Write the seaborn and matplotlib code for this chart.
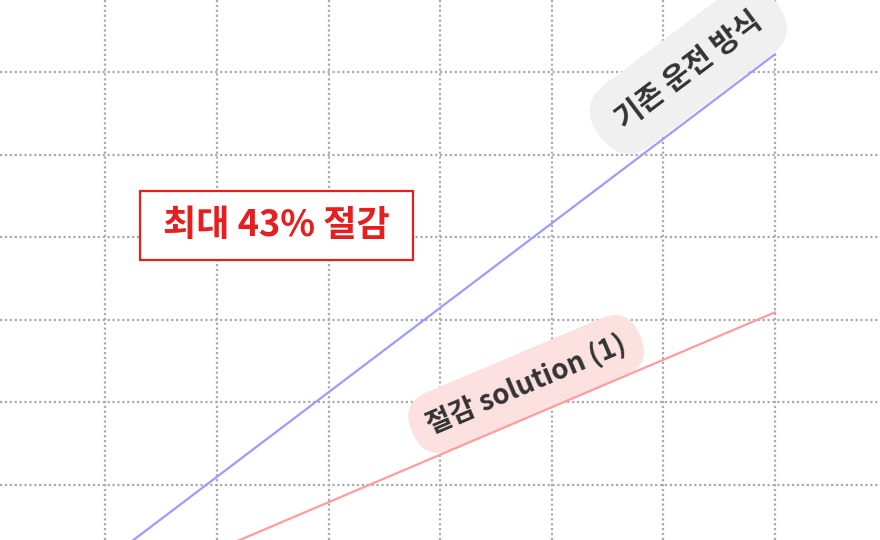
import numpy as np
import pandas as pd
import matplotlib
matplotlib.use("Agg")
import matplotlib.pyplot as plt
from matplotlib.patches import Rectangle
import seaborn as sns

# 데이터
x_base = [1, 7]
y_base = [0.07, 6.22]          # 기존 운전 방식
x_sol = [2, 7]
y_sol = [0.21, 3.09]           # 절감 solution (1)
x_grid = [1, 2, 3, 4, 5, 6, 7]
y_grid = [1, 2, 3, 4, 5, 6]

label_base = "기존 운전 방식"
label_sol = "절감 solution (1)"
label_save = "최대 43% 절감"

sns.set_theme(style="white")
plt.rcParams["font.family"] = ["Noto Sans CJK KR", "DejaVu Sans"]
plt.rcParams["axes.unicode_minus"] = False

df = pd.concat([
    pd.DataFrame({"x": x_base, "y": y_base, "series": label_base}),
    pd.DataFrame({"x": x_sol, "y": y_sol, "series": label_sol}),
])

fig = plt.figure(figsize=(8.8, 5.4), dpi=100)
ax = fig.add_axes([0, 0, 1, 1])

sns.lineplot(data=df, x="x", y="y", hue="series",
             palette={label_base: "#9c9cff", label_sol: "#ff9c9c"},
             linewidth=1.6, legend=False, ax=ax, zorder=5)

ax.set_xlim(0.055, 7.94)
ax.set_ylim(0.327, 6.877)
ax.set_xticks(x_grid)
ax.set_yticks(y_grid)
ax.grid(True, color="#ababab", linestyle=(0, (1, 1.2)), linewidth=1.6)
ax.tick_params(length=0, labelbottom=False, labelleft=False)
ax.set_xlabel("")
ax.set_ylabel("")
for s in ax.spines.values():
    s.set_visible(False)

# 라벨
ax.text(6.222, 6.035, label_base, rotation=37, rotation_mode="anchor",
        ha="center", va="center", fontsize=21, fontweight="bold", color="#333333",
        bbox=dict(boxstyle="round,pad=0.8,rounding_size=1.25", fc="#f0f0f0", ec="none"),
        zorder=4)
ax.text(4.77, 2.22, label_sol, rotation=23, rotation_mode="anchor",
        ha="center", va="center", fontsize=20, fontweight="bold", color="#333333",
        bbox=dict(boxstyle="round,pad=0.6,rounding_size=1.05", fc="#fde0e0", ec="none"),
        zorder=2)

# 강조 박스
ax.add_patch(Rectangle((0.159, 0.5185), 0.310, 0.1278, transform=ax.transAxes,
                       fc="white", ec="#e61e1e", lw=1.6, zorder=6))
ax.text(2.528, 4.146, label_save, ha="center", va="center",
        fontsize=26, fontweight="bold", color="#e61e1e", zorder=7)

fig.savefig("out.png", dpi=100)
